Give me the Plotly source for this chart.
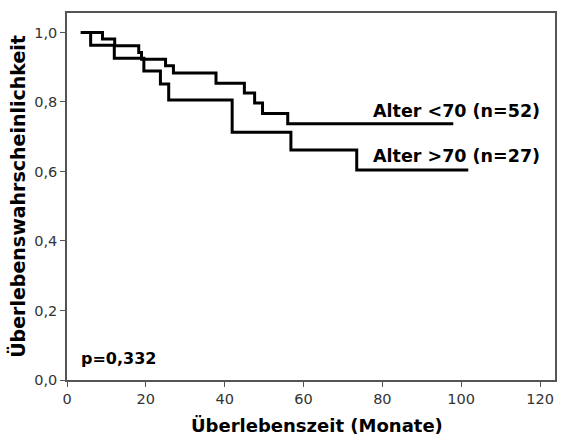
import plotly.graph_objects as go

# Kaplan-Meier step data
t_young = [3.5, 9.0, 12.1, 18.2, 18.9, 25.0, 27.0, 37.8, 45.0, 47.6, 49.6, 56.0, 98.0]
s_young = [1.0, 0.981, 0.962, 0.942, 0.923, 0.904, 0.883, 0.854, 0.826, 0.797, 0.767, 0.737, 0.737]

t_old = [3.5, 6.0, 12.0, 19.5, 23.7, 25.8, 41.9, 56.8, 73.5, 101.8]
s_old = [1.0, 0.963, 0.926, 0.889, 0.852, 0.806, 0.713, 0.662, 0.604, 0.604]

label_young = "Alter &lt;70 (n=52)"
label_old = "Alter &gt;70 (n=27)"
p_text = "p=0,332"
x_title = "Überlebenszeit (Monate)"
y_title = "Überlebenswahrscheinlichkeit"

x_ticks = [0, 20, 40, 60, 80, 100, 120]
y_ticks = [0.0, 0.2, 0.4, 0.6, 0.8, 1.0]

fig = go.Figure()
fig.add_trace(go.Scatter(x=t_young, y=s_young, mode="lines", line=dict(shape="hv", color="black", width=3),
                         showlegend=False, hoverinfo="skip"))
fig.add_trace(go.Scatter(x=t_old, y=s_old, mode="lines", line=dict(shape="hv", color="black", width=3),
                         showlegend=False, hoverinfo="skip"))

bold = dict(family="DejaVu Sans", size=17.5, color="black")
fig.add_annotation(x=t_young[-1], y=s_young[-1], text="<b>" + label_young + "</b>", showarrow=False,
                   xanchor="right", yanchor="bottom", yshift=1, xshift=89, font=bold)
fig.add_annotation(x=t_old[-1], y=s_old[-1], text="<b>" + label_old + "</b>", showarrow=False,
                   xanchor="right", yanchor="bottom", yshift=2, xshift=74, font=bold)
fig.add_annotation(x=0, y=0, text="<b>" + p_text + "</b>", showarrow=False, xanchor="left", yanchor="bottom",
                   xshift=12, yshift=10, font=dict(family="DejaVu Sans", size=16, color="black"))
fig.add_annotation(x=0.512, y=0, xref="paper", yref="paper", text="<b>" + x_title + "</b>", showarrow=False,
                   xanchor="center", yanchor="middle", yshift=-45,
                   font=dict(family="DejaVu Sans", size=18, color="black"))

axis_common = dict(showgrid=False, zeroline=False, showline=True, linecolor="#555555", linewidth=1.5,
                   mirror=True, ticks="outside", ticklen=5, tickcolor="#555555", tickwidth=1.2,
                   tickfont=dict(family="DejaVu Sans", size=14.5, color="#333333"))

fig.update_xaxes(range=[0, 123.8], tickvals=x_ticks, **axis_common)
fig.update_yaxes(range=[0, 1.056], tickvals=y_ticks, tickformat=".1f", **axis_common,
                 title=dict(text="<b>" + y_title + "</b>", font=dict(family="DejaVu Sans", size=19, color="black"),
                            standoff=4))

fig.update_layout(width=563, height=435, margin=dict(l=67, r=6, t=13, b=55),
                  paper_bgcolor="white", plot_bgcolor="white", separators=",.")

fig.write_html("out.html")
